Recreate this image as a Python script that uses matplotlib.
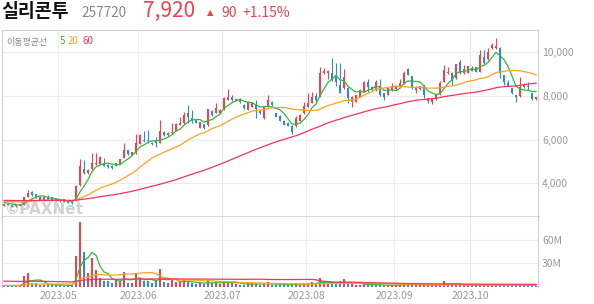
import numpy as np
import pandas as pd
import matplotlib
matplotlib.use('Agg')
import matplotlib.pyplot as plt

plt.rcParams['font.family'] = ['Noto Sans CJK KR', 'DejaVu Sans']

# KRX trading days shown on the chart
holidays = ['2023-05-01', '2023-05-05', '2023-05-29', '2023-06-06', '2023-08-15',
            '2023-09-28', '2023-09-29', '2023-10-02', '2023-10-03', '2023-10-09']
dates = pd.bdate_range('2023-04-11', '2023-10-27')
dates = dates[~dates.isin(pd.to_datetime(holidays))]

month_labels = ['2023.05', '2023.06', '2023.07', '2023.08', '2023.09', '2023.10']

opens = [2990, 3080, 3000, 2950, 3000, 3020, 3400, 3610, 3520, 3250,
         3230, 3360, 3390, 3220, 3270, 3270, 3240, 3210, 3240, 3920,
         4650, 4470, 4640, 4880, 4870, 4950, 4840, 4800, 4800, 4890,
         5160, 5500, 5300, 5380, 5800, 6000, 6000, 5850, 5980, 5850,
         6350, 6200, 6280, 6400, 6660, 6740, 7220, 6990, 6890, 6540,
         6690, 6650, 7310, 7220, 7200, 7380, 7800, 7950, 7760, 7860,
         7590, 7350, 7500, 7600, 7320, 6960, 7500, 7720, 7190, 7070,
         6860, 6770, 6610, 6600, 6850, 7190, 7500, 7680, 8000, 7950,
         9020, 9050, 9050, 8950, 8500, 8330, 8330, 7720, 7720, 7950,
         8180, 8630, 8400, 8250, 8440, 8100, 8030, 8250, 8280, 8410,
         8560, 9200, 8890, 8260, 8290, 8480, 7770, 7720, 7830, 8070,
         8640, 9020, 9040, 8790, 9520, 9010, 9040, 9240, 9290, 9090,
         9780, 9650, 10150, 10150, 10150, 8940, 8560, 8330, 8030, 7980,
         8480, 8440, 8100, 7830]
highs = [3060, 3090, 3010, 3010, 3080, 3400, 3700, 3640, 3540, 3380,
         3380, 3450, 3400, 3320, 3290, 3280, 3250, 3220, 3920, 5100,
         5050, 4640, 5400, 5400, 5260, 5150, 4880, 4830, 4950, 5130,
         5840, 5540, 5450, 6250, 6250, 6380, 6430, 5900, 6130, 6880,
         6400, 6350, 6740, 6750, 7040, 7270, 7570, 7340, 6920, 6800,
         6720, 7400, 7350, 7650, 7380, 7920, 8280, 8020, 7880, 7880,
         7620, 7750, 7720, 7800, 7350, 7520, 8030, 7760, 7220, 7100,
         6880, 6790, 6640, 7050, 7150, 7720, 8100, 8180, 8100, 9300,
         9250, 9180, 9700, 9500, 9500, 9200, 8400, 8000, 8050, 8300,
         8650, 8780, 8420, 8700, 8750, 8120, 8350, 8560, 8460, 8780,
         9100, 9250, 8910, 8420, 8460, 8500, 7890, 7890, 8080, 8680,
         9400, 9300, 9060, 9450, 9620, 9400, 9370, 9350, 9310, 10080,
         10080, 10150, 10380, 10610, 10230, 8960, 8710, 8350, 8050, 8860,
         8560, 8640, 8120, 7950]
lows = [2980, 3000, 2920, 2930, 2990, 3000, 3380, 3440, 3350, 3230,
        3220, 3230, 3200, 3200, 3160, 3150, 3100, 3080, 3200, 3900,
        4450, 4440, 4600, 4850, 4850, 4780, 4700, 4660, 4780, 4870,
        5140, 5300, 5280, 5360, 5780, 5880, 5820, 5750, 5670, 5830,
        6150, 6180, 6250, 6380, 6640, 6720, 6740, 6740, 6740, 6520,
        6480, 6630, 7080, 7200, 7150, 7360, 7780, 7750, 7740, 7680,
        7400, 7330, 7480, 7000, 7180, 6940, 7480, 7550, 7020, 6830,
        6640, 6600, 6250, 6580, 6830, 7170, 7480, 7660, 7650, 7930,
        8980, 8760, 8650, 8450, 8100, 8300, 7650, 7500, 7700, 7930,
        8160, 8180, 8230, 8230, 8000, 7800, 8010, 8230, 8260, 8390,
        8540, 8920, 8310, 8100, 8270, 7870, 7680, 7620, 7810, 8050,
        8620, 9000, 8500, 8770, 9000, 8990, 9020, 9120, 9070, 9070,
        9450, 9630, 10130, 10130, 8790, 8480, 8420, 8080, 7720, 7960,
        8360, 8260, 7800, 7810]
closes = [3040, 3020, 2940, 3000, 3060, 3370, 3580, 3460, 3370, 3360,
          3360, 3240, 3220, 3300, 3180, 3170, 3120, 3090, 3880, 4800,
          4490, 4600, 4950, 4950, 5200, 4800, 4740, 4690, 4920, 5100,
          5540, 5340, 5420, 5840, 6200, 5950, 5930, 5790, 5820, 6400,
          6200, 6310, 6350, 6710, 6770, 7120, 7040, 6840, 6770, 6780,
          6510, 7370, 7120, 7420, 7360, 7880, 7960, 7780, 7850, 7700,
          7420, 7720, 7700, 7370, 7200, 7500, 7800, 7570, 7040, 6850,
          6660, 6610, 6360, 7000, 7100, 7520, 7680, 7950, 7800, 9050,
          9100, 9120, 8700, 8600, 8100, 8860, 7880, 7950, 8030, 8250,
          8630, 8400, 8250, 8630, 8030, 7950, 8330, 8400, 8440, 8560,
          9020, 8940, 8330, 8400, 8440, 8030, 7870, 7870, 8060, 8590,
          9170, 9090, 8710, 9430, 9050, 9200, 9350, 9140, 9090, 9850,
          9470, 10000, 10300, 10260, 9020, 8640, 8440, 8100, 7950, 8410,
          8380, 8380, 7830, 7920]
# volume in millions of shares
volumes = [1.0, 1.2, 1.5, 1.0, 1.2, 13.5, 17.5, 4.5, 4.0, 2.0,
           2.5, 3.0, 1.5, 1.5, 1.8, 1.2, 1.5, 1.2, 39.0, 82.0,
           44.5, 17.0, 36.0, 21.0, 11.5, 7.5, 7.0, 4.5, 9.0, 6.5,
           19.0, 5.0, 4.0, 16.5, 10.5, 7.5, 6.5, 4.0, 7.0, 22.5,
           5.5, 4.0, 8.5, 6.0, 5.5, 8.0, 6.0, 4.5, 3.0, 4.0,
           3.5, 8.0, 4.5, 4.0, 3.0, 7.0, 6.0, 4.5, 3.0, 2.5,
           2.0, 4.0, 5.0, 3.0, 2.0, 3.0, 5.5, 2.5, 2.0, 2.0,
           2.0, 2.5, 3.0, 4.5, 2.5, 3.5, 3.0, 6.0, 3.5, 10.5,
           4.0, 3.5, 3.5, 3.0, 7.0, 9.0, 4.0, 3.0, 2.0, 2.5,
           3.5, 2.0, 1.5, 2.0, 2.0, 1.5, 2.0, 1.5, 1.5, 2.0,
           4.0, 2.0, 2.5, 1.5, 1.5, 2.0, 1.5, 1.5, 1.5, 2.5,
           7.0, 2.5, 2.0, 2.5, 2.5, 1.5, 2.0, 1.5, 1.5, 3.0,
           2.0, 2.0, 1.5, 1.5, 3.0, 3.0, 1.5, 1.5, 1.5, 3.0,
           1.5, 1.5, 1.5, 1.0]

ma_windows = [5, 20, 60]
# level of each moving average at the left edge of the chart (history before the window)
price_ma_start = [3150, 3200, 3230]
volume_ma_start = [1.2, 1.5, 7.0]

UP = '#f2404e'
DOWN = '#2a88ec'
MA_COLORS = ['#33b833', '#ffa31f', '#f5335e']
GRID = '#ebebeb'
BORDER = '#cfcfcf'
LABEL = '#999999'


def moving_average(values, window, start_level):
    padded = np.concatenate([np.full(window - 1, float(start_level)), values])
    return pd.Series(padded).rolling(window).mean().to_numpy()[window - 1:]


n = len(closes)
dates = dates[:n]
x = np.arange(n)
o = np.array(opens, dtype=float)
c = np.array(closes, dtype=float)
h = np.array(highs, dtype=float)
l = np.array(lows, dtype=float)
v = np.array(volumes, dtype=float)
colors = [UP if cc >= oo else DOWN for oo, cc in zip(o, c)]

month_pos = []
for lab in month_labels:
    yy, mm = lab.split('.')
    first = np.argmax((dates.year == int(yy)) & (dates.month == int(mm)))
    month_pos.append(first - 0.5)

W, H = 594, 304
fig = plt.figure(figsize=(W / 100, H / 100), dpi=100)
ax = fig.add_axes([2 / W, 1 - 217 / H, 536 / W, 187 / H])
axv = fig.add_axes([2 / W, 1 - 286.5 / H, 536 / W, 69.5 / H])

# price panel
ax.vlines(x, l, h, colors=colors, linewidth=0.8, zorder=2)
body = np.maximum(np.abs(c - o), 25)
ax.bar(x, body, bottom=np.minimum(o, c), width=0.68, color=colors, linewidth=0, zorder=3)
for w, start, col in zip(ma_windows, price_ma_start, MA_COLORS):
    ax.plot(x, moving_average(c, w, start), color=col, linewidth=0.9, zorder=4)

ax.set_xlim(-0.5, n - 0.5)
ax.set_ylim(2470, 10990)
ax.set_yticks([4000, 6000, 8000, 10000])
ax.set_yticklabels([f'{t:,}' for t in [4000, 6000, 8000, 10000]])
ax.yaxis.tick_right()
ax.tick_params(axis='y', length=0, pad=3, labelsize=7.5, labelcolor=LABEL)
ax.set_xticks(month_pos)
ax.tick_params(axis='x', length=0, labelbottom=False)
ax.grid(True, color=GRID, linewidth=0.8, zorder=0)
ax.set_axisbelow(True)
for s in ['left', 'top', 'right']:
    ax.spines[s].set_color(BORDER)
    ax.spines[s].set_linewidth(0.8)
ax.spines['bottom'].set_color('#444444')
ax.spines['bottom'].set_linewidth(1.0)

# volume panel
axv.bar(x, v, width=0.68, color=colors, linewidth=0, zorder=2)
for w, start, col in zip(ma_windows, volume_ma_start, MA_COLORS):
    axv.plot(x, moving_average(v, w, start), color=col, linewidth=0.9, zorder=3)
axv.set_xlim(-0.5, n - 0.5)
axv.set_ylim(0, 89)
axv.set_yticks([30, 60])
axv.set_yticklabels(['30M', '60M'])
axv.yaxis.tick_right()
axv.tick_params(axis='y', length=0, pad=3, labelsize=7.5, labelcolor=LABEL)
axv.set_xticks(month_pos)
axv.set_xticklabels(month_labels)
axv.tick_params(axis='x', length=0, pad=3, labelsize=7.5, labelcolor=LABEL)
axv.grid(True, color=GRID, linewidth=0.8, zorder=0)
axv.set_axisbelow(True)
axv.spines['top'].set_visible(False)
axv.spines['bottom'].set_visible(False)
for s in ['left', 'right']:
    axv.spines[s].set_color(BORDER)
    axv.spines[s].set_linewidth(0.8)

# header
base = 1 - 17 / H
fig.text(1 / W, base, '실리콘투', fontsize=13.2, fontweight='bold', color='#111111', va='baseline')
fig.text(81 / W, base, '257720', fontsize=9.8, color='#888888', va='baseline')
fig.text(143 / W, base, '7,920', fontsize=15, color=UP, va='baseline')
fig.text(207 / W, base + 1.5 / H, '▲', fontsize=6, color=UP, va='baseline', family='DejaVu Sans')
fig.text(221 / W, base, '90', fontsize=10, color=UP, va='baseline')
fig.text(242 / W, base, '+1.15%', fontsize=10, color=UP, va='baseline')

# moving average legend
lb = 1 - 44.5 / H
fig.text(6 / W, lb, '이동평균선', fontsize=6.5, color='#888888', va='baseline')
fig.text(60 / W, lb, '5', fontsize=7, color=MA_COLORS[0], va='baseline')
fig.text(67.5 / W, lb, '20', fontsize=7, color=MA_COLORS[1], va='baseline')
fig.text(82.5 / W, lb, '60', fontsize=7, color=MA_COLORS[2], va='baseline')

# watermark
fig.text(5 / W, 1 - 214 / H, '©PAXNet', fontsize=11, fontweight='bold', color='#999999',
         alpha=0.45, va='baseline', family='DejaVu Sans')

fig.savefig('out.png', dpi=100)
